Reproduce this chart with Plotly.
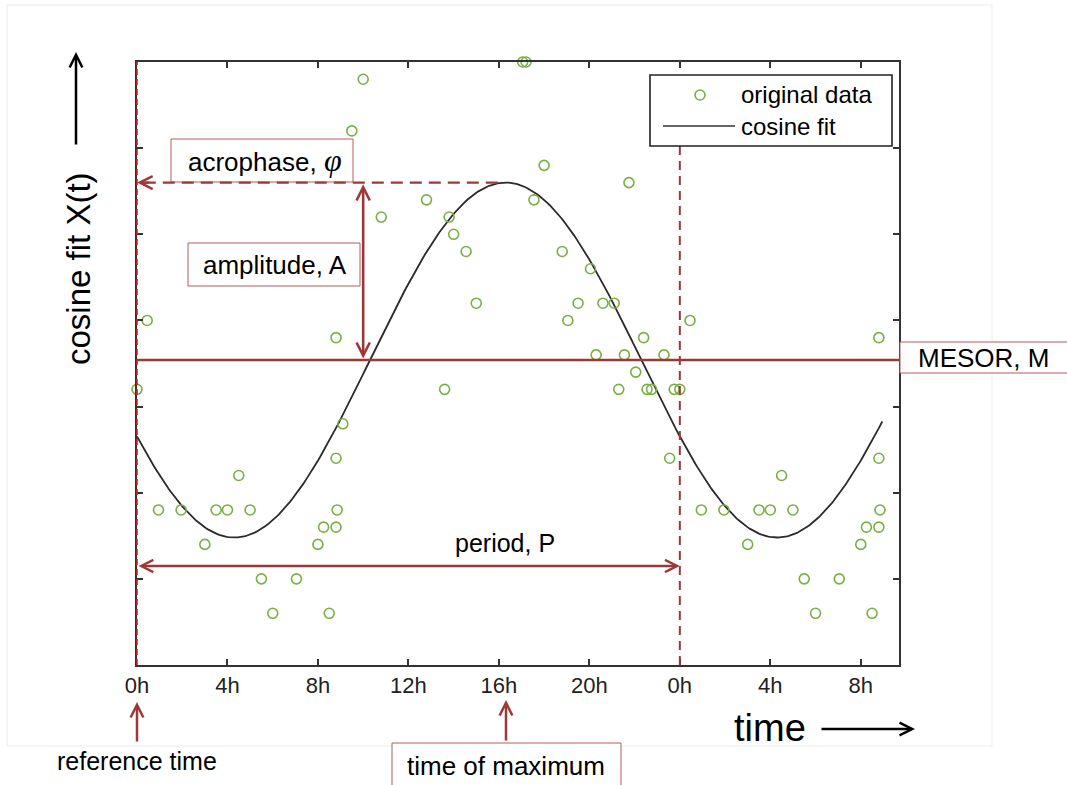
import numpy as np
import plotly.graph_objects as go

# ---------------- data ----------------
time_h = [0.0, 0.45, 0.95, 1.95, 3.0, 3.5, 4.0, 4.5, 5.0, 5.5, 6.0, 7.05, 8.0, 8.25, 8.5,
          8.8, 8.85, 8.8, 8.8, 9.1, 9.5, 10.0, 10.8, 12.8, 13.6, 13.8, 14.0, 14.55, 15.0,
          17.05, 17.2, 17.55, 18.0, 18.8, 19.05, 19.5, 20.05, 20.3, 20.6, 21.1, 21.3, 21.55,
          21.75, 22.05, 22.4, 22.55, 22.75, 23.3, 23.55, 23.75,
          24.0, 24.45, 24.95, 25.95, 27.0, 27.5, 28.0, 28.5, 29.0, 29.5, 30.0, 31.05, 32.0,
          32.25, 32.5, 32.8, 32.85, 32.8, 32.8]
values = [3.2, 4.0, 1.8, 1.8, 1.4, 1.8, 1.8, 2.2, 1.8, 1.0, 0.6, 1.0, 1.4, 1.6, 0.6,
          1.6, 1.8, 2.4, 3.8, 2.8, 6.2, 6.8, 5.2, 5.4, 3.2, 5.2, 5.0, 4.8, 4.2,
          7.0, 7.0, 5.4, 5.8, 4.8, 4.0, 4.2, 4.6, 3.6, 4.2, 4.2, 3.2, 3.6,
          5.6, 3.4, 3.8, 3.2, 3.2, 3.6, 2.4, 3.2,
          3.2, 4.0, 1.8, 1.8, 1.4, 1.8, 1.8, 2.2, 1.8, 1.0, 0.6, 1.0, 1.4,
          1.6, 0.6, 1.6, 1.8, 2.4, 3.8]

MESOR = 3.54        # M
AMPLITUDE = 2.06    # A
ACROPHASE_H = 16.3  # time of maximum (h)
PERIOD_H = 24.0     # P
FIT_END_H = 32.95

tick_vals = [0, 4, 8, 12, 16, 20, 24, 28, 32]
tick_text = ["0h", "4h", "8h", "12h", "16h", "20h", "0h", "4h", "8h"]
x_range = [0, 33.69]
y_range = [0, 7]
y_ticks = [0, 1, 2, 3, 4, 5, 6, 7]

# ---------------- styling ----------------
W, H = 1067, 785
L, R, T, B = 137, 899, 62, 665   # plot area in pixels
DARKRED = "#9e3838"
BOXRED = "#b65c5c"
GREEN = "#78b043"
FONT = "Liberation Sans, Arial, sans-serif"


def px(x):
    return (x - L) / (R - L)


def py(y):
    return (B - y) / (B - T)


t_fit = np.linspace(0, FIT_END_H, 400)
x_fit = MESOR + AMPLITUDE * np.cos(2 * np.pi * (t_fit - ACROPHASE_H) / PERIOD_H)

fig = go.Figure()
fig.add_trace(go.Scatter(x=t_fit, y=x_fit, mode="lines", name="cosine fit",
                         line=dict(color="#2a2a2a", width=1.8), showlegend=False))
fig.add_trace(go.Scatter(x=time_h, y=values, mode="markers", name="original data",
                         marker=dict(symbol="circle-open", size=10, color=GREEN,
                                     line=dict(width=1.6, color=GREEN)),
                         cliponaxis=False, showlegend=False))

shapes = []
# faint outer frame
shapes.append(dict(type="rect", xref="paper", yref="paper", x0=px(7), x1=px(992),
                   y0=py(746), y1=py(5), line=dict(color="#ececec", width=1), layer="below"))
# MESOR line
shapes.append(dict(type="line", xref="x", yref="y", x0=0, x1=x_range[1], y0=MESOR, y1=MESOR,
                   line=dict(color=DARKRED, width=2.6)))
# acrophase box + dashed line
shapes.append(dict(type="rect", xref="paper", yref="paper", x0=px(171), x1=px(353),
                   y0=py(182), y1=py(139), fillcolor="white", line=dict(color=BOXRED, width=1)))
shapes.append(dict(type="line", xref="x", yref="y", x0=0.3, x1=ACROPHASE_H - 0.1,
                   y0=MESOR + AMPLITUDE, y1=MESOR + AMPLITUDE,
                   line=dict(color=DARKRED, width=2.2, dash="12px,7px")))
# amplitude box
shapes.append(dict(type="rect", xref="paper", yref="paper", x0=px(188), x1=px(360),
                   y0=py(286), y1=py(243), fillcolor="white", line=dict(color=BOXRED, width=1)))
# period end dashed vertical
shapes.append(dict(type="line", xref="x", yref="y", x0=PERIOD_H, x1=PERIOD_H,
                   y0=0, y1=(B - 146) / (B - T) * 7,
                   line=dict(color=DARKRED, width=2, dash="9px,6px")))
# reference-time red dashed line on the left axis
shapes.append(dict(type="line", xref="paper", yref="paper", x0=0, x1=0, y0=0, y1=1,
                   line=dict(color="#e01818", width=1.6, dash="6px,4px")))
# MESOR box (outside right)
shapes.append(dict(type="rect", xref="paper", yref="paper", x0=px(900), x1=px(1080),
                   y0=py(373), y1=py(342), fillcolor="white", line=dict(color=BOXRED, width=1)))
# time-of-maximum box
shapes.append(dict(type="rect", xref="paper", yref="paper", x0=px(392), x1=px(621),
                   y0=py(800), y1=py(743), fillcolor="white", line=dict(color=BOXRED, width=1)))
# legend box
shapes.append(dict(type="rect", xref="paper", yref="paper", x0=px(650), x1=px(892),
                   y0=py(146), y1=py(75), fillcolor="white", line=dict(color="#222222", width=1.6)))
shapes.append(dict(type="circle", xref="paper", yref="paper", x0=px(695), x1=px(705),
                   y0=py(100), y1=py(90), line=dict(color=GREEN, width=1.6)))
shapes.append(dict(type="line", xref="paper", yref="paper", x0=px(663), x1=px(735),
                   y0=py(126), y1=py(126), line=dict(color="#333333", width=1.6)))

ann = []


def text(x, y, s, size=25, xanchor="center", **kw):
    ann.append(dict(xref="paper", yref="paper", x=px(x), y=py(y), text=s, showarrow=False,
                    xanchor=xanchor, yanchor="middle",
                    font=dict(family=FONT, size=size, color="black"), **kw))


def arrow_px(hx, hy, dx, dy, color, width=2.5, size=1.0):
    # head at (hx, hy) in pixels; tail offset by (dx, dy) pixels
    ann.append(dict(xref="paper", yref="paper", x=px(hx), y=py(hy), ax=dx, ay=dy,
                    text="", showarrow=True, arrowhead=5, arrowsize=size,
                    arrowwidth=width, arrowcolor=color, standoff=0))


# labels
text(265, 160, 'acrophase, <span style="font-family:Liberation Serif, Times New Roman, serif; font-size:32px"><i>φ</i></span>', size=26)
text(275, 265, "amplitude, A", size=26)
text(916, 358, "MESOR, M", size=26, xanchor="left")
text(506, 766, "time of maximum", size=26)
text(137, 761, "reference time", size=25)
text(505, 543, "period, P", size=25)
text(739, 95, "original data", size=24, xanchor="left")
text(739, 127, "cosine fit", size=24, xanchor="left")
# axis titles
text(78, 269, "cosine fit X(t)", size=33, textangle=-90)
text(770, 728, "time", size=38)

# black arrows for titles
arrow_px(76, 52, 0, 94, "black", width=2.5, size=1.0)
arrow_px(915, 729, -95, 0, "black", width=2.5, size=1.0)
# red arrows below axis
arrow_px(137, 702, 0, 41, DARKRED, width=2.5, size=1.0)
arrow_px(506, 700, 0, 42, DARKRED, width=2.5, size=1.0)

# acrophase arrow head (pointing to y axis)
ann.append(dict(xref="x", yref="y", x=0, y=MESOR + AMPLITUDE, axref="x", ayref="y",
                ax=0.6, ay=MESOR + AMPLITUDE, text="", showarrow=True, arrowhead=5,
                arrowsize=1.15, arrowwidth=2.2, arrowcolor=DARKRED, standoff=0))
# amplitude double arrow
ann.append(dict(xref="x", yref="y", x=10.0, y=MESOR + AMPLITUDE - 0.02, axref="x", ayref="y",
                ax=10.0, ay=MESOR, text="", showarrow=True, arrowhead=5, startarrowhead=5,
                arrowside="end+start", arrowsize=1.0, startarrowsize=1.0,
                arrowwidth=2.6, arrowcolor=DARKRED, standoff=0, startstandoff=0))
# period double arrow
ann.append(dict(xref="x", yref="y", x=PERIOD_H, y=1.15, axref="x", ayref="y",
                ax=0, ay=1.15, text="", showarrow=True, arrowhead=5, startarrowhead=5,
                arrowside="end+start", arrowsize=1.0, startarrowsize=1.0,
                arrowwidth=2.4, arrowcolor=DARKRED, standoff=0, startstandoff=0))

axis_common = dict(showline=True, linecolor="#333333", linewidth=1.6, mirror="ticks",
                   ticks="inside", ticklen=6, tickwidth=1.6, tickcolor="#333333",
                   showgrid=False, zeroline=False)

fig.update_layout(
    width=W, height=H, autosize=False,
    margin=dict(l=L, r=W - R, t=T, b=H - B, pad=0),
    paper_bgcolor="white", plot_bgcolor="white",
    xaxis=dict(range=x_range, tickmode="array", tickvals=tick_vals, ticktext=tick_text,
               tickfont=dict(family=FONT, size=22, color="#222222"), **axis_common),
    yaxis=dict(range=y_range, tickmode="array", tickvals=y_ticks, showticklabels=False,
               **axis_common),
    shapes=shapes, annotations=ann, showlegend=False,
)

fig.write_html("out.html")
